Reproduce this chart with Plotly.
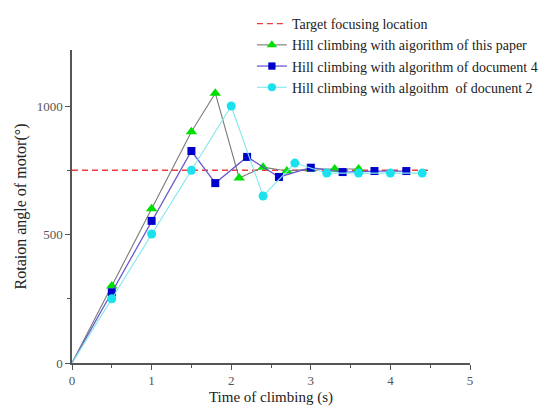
import plotly.graph_objects as go

# Data
target_x = [0, 4.5]
target_y = [750, 750]

this_paper_x = [0, 0.5, 1.0, 1.5, 1.8, 2.1, 2.4, 2.7, 3.0, 3.3, 3.6]
this_paper_y = [0, 300, 600, 900, 1050, 720, 762, 747, 755, 755, 755]

doc4_x = [0, 0.5, 1.0, 1.5, 1.8, 2.2, 2.6, 3.0, 3.4, 3.8, 4.2]
doc4_y = [0, 275, 553, 825, 700, 802, 724, 760, 743, 747, 747]

doc2_x = [0, 0.5, 1.0, 1.5, 2.0, 2.4, 2.8, 3.2, 3.6, 4.0, 4.4]
doc2_y = [0, 250, 502, 750, 1000, 650, 778, 739, 739, 739, 739]

names = [
    "Target focusing location",
    "Hill climbing with aigorithm of this paper",
    "Hill climbing with algorithm of document 4",
    "Hill climbing with algoithm  of docunent 2",
]

serif = "Liberation Serif, Times New Roman, serif"

def sizes(n, s):
    return [0] + [s] * (n - 1)

fig = go.Figure()
fig.add_trace(go.Scatter(
    x=target_x, y=target_y, mode="lines", name=names[0],
    line=dict(color="#f03a3a", width=1.4, dash="6px,4px"),
))
fig.add_trace(go.Scatter(
    x=this_paper_x, y=this_paper_y, mode="lines+markers", name=names[1],
    line=dict(color="#7a7a7a", width=1.1),
    marker=dict(symbol="triangle-up", color="#00e000", opacity=1, line=dict(width=0),
                size=sizes(len(this_paper_x), 10)),
))
fig.add_trace(go.Scatter(
    x=doc4_x, y=doc4_y, mode="lines+markers", name=names[2],
    line=dict(color="#6a5acd", width=1.3),
    marker=dict(symbol="square", color="#0000cc", opacity=1, line=dict(width=0),
                size=sizes(len(doc4_x), 8)),
))
fig.add_trace(go.Scatter(
    x=doc2_x, y=doc2_y, mode="lines+markers", name=names[3],
    line=dict(color="#7fe8f0", width=1.1),
    marker=dict(symbol="circle", color="#19e1ee", opacity=1, line=dict(width=0),
                size=sizes(len(doc2_x), 9)),
))

fig.update_layout(
    width=552, height=404,
    margin=dict(l=64, r=90, t=42, b=49, autoexpand=False),
    paper_bgcolor="white", plot_bgcolor="white",
    font=dict(family=serif, size=12, color="#333333"),
    showlegend=True,
    legend=dict(
        x=0.452, y=1.134, xanchor="left", yanchor="top",
        bgcolor="rgba(0,0,0,0)", font=dict(family=serif, size=14, color="#222222"),
        tracegroupgap=0, itemwidth=30,
    ),
    xaxis=dict(
        range=[0, 5], showgrid=False, zeroline=False, automargin=False,
        showline=True, linecolor="#555555", linewidth=1.5,
        ticks="outside", ticklen=5, tickcolor="#555555", tickwidth=1.2,
        tickvals=[0, 1, 2, 3, 4, 5],
        minor=dict(tickvals=[0.5, 1.5, 2.5, 3.5, 4.5], ticks="outside", ticklen=3, tickcolor="#555555"),
        tickfont=dict(family=serif, size=13, color="#555555"),
        title=dict(text="Time of climbing (s)", font=dict(family=serif, size=15, color="#222222"), standoff=4),
    ),
    yaxis=dict(
        range=[0, 1218], showgrid=False, zeroline=False, automargin=False,
        showline=True, linecolor="#555555", linewidth=1.5,
        ticks="outside", ticklen=5, tickcolor="#555555", tickwidth=1.2,
        tickvals=[0, 500, 1000],
        minor=dict(tickvals=[250, 750], ticks="outside", ticklen=3, tickcolor="#555555"),
        tickfont=dict(family=serif, size=13, color="#555555"),
        title=dict(text="Rotaion angle of motor(°)", font=dict(family=serif, size=16, color="#222222"), standoff=6),
    ),
)

fig.write_html("out.html")
